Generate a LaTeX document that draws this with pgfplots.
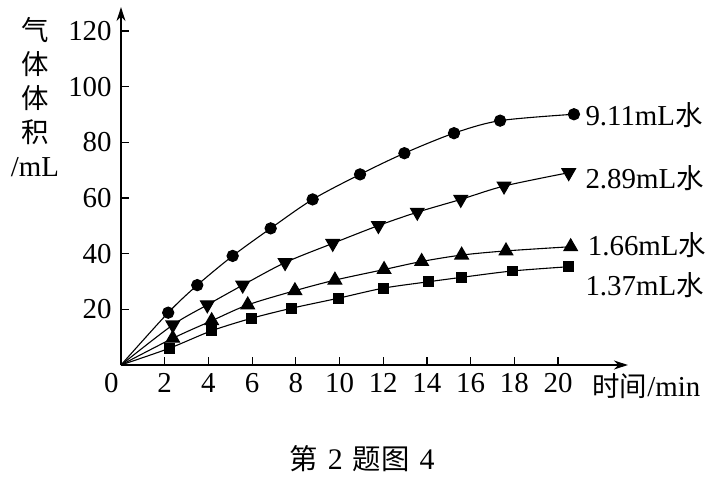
\documentclass[border=0pt]{standalone}
\usepackage{pgfplots}
\pgfplotsset{compat=1.18}
\usepackage{fontspec}
\setmainfont{Liberation Serif}
\newfontfamily\cjk{Noto Sans CJK SC}[Scale=0.95]
\usetikzlibrary{arrows.meta}
\begin{document}
\begin{tikzpicture}
\begin{axis}[
  at={(0,0)}, anchor=south west,
  x=10.925bp, y=1.3915bp,
  xmin=0, xmax=23.2, ymin=0, ymax=128.6,
  axis x line=bottom, axis y line=left,
  axis line style={line width=0.7bp, -{Stealth[length=7bp,width=4.5bp]}},
  xtick={2,4,...,20}, ytick={20,40,...,120},
  tick align=inside, major tick length=4bp,
  tick style={line width=0.6bp, black},
  every tick label/.style={font=\rmfamily\fontsize{14.5}{17}\selectfont},
  /pgf/number format/assume math mode=true,
  xticklabel style={inner sep=0pt, yshift=-4bp},
  yticklabel style={inner sep=0pt, xshift=-4.5bp},
  clip=false,
]
\addplot[line width=0.55bp, black, smooth, tension=0.5, mark phase=2, mark=*, mark size=2.8bp, mark options={fill=black}] coordinates {
 (0,0) (2.16,18.8) (3.49,28.7) (5.11,39.2) (6.85,49.1) (8.77,59.5) (10.94,68.5)
 (12.97,76.1) (15.24,83.3) (17.35,87.8) (20.73,90.1)};
\addplot[line width=0.55bp, black, smooth, tension=0.5, mark phase=2, mark=triangle*, mark size=3.9bp, mark options={fill=black, rotate=180}] coordinates {
 (0,0) (2.37,14.4) (3.95,21.6) (5.57,28.7) (7.51,36.8) (9.69,43.7) (11.78,50.1)
 (13.56,54.9) (15.55,59.5) (17.53,64.3) (20.49,69.1)};
\addplot[line width=0.55bp, black, smooth, tension=0.5, mark phase=2, mark=triangle*, mark size=3.9bp, mark options={fill=black}] coordinates {
 (0,0) (2.37,9.6) (4.15,15.9) (5.80,21.6) (7.96,26.7) (9.79,30.5) (12.04,34.3)
 (13.76,37.2) (15.59,39.5) (17.62,41.0) (20.58,42.5)};
\addplot[line width=0.55bp, black, smooth, tension=0.5, mark phase=2, mark=square*, mark size=2.4bp, mark options={fill=black}] coordinates {
 (0,0) (2.21,6.0) (4.15,12.3) (5.98,16.8) (7.81,20.4) (9.95,24.0) (12.00,27.6)
 (14.06,29.9) (15.59,31.5) (17.93,33.8) (20.47,35.3)};
\begin{scope}[font=\rmfamily\fontsize{14.5}{17}\selectfont, inner sep=0pt]
\node[anchor=north east] at (axis cs:0,0) [xshift=-1bp, yshift=-4bp] {0};
\node[anchor=west] at (axis cs:21.24,89.8) {9.11mL{\cjk 水}};
\node[anchor=west] at (axis cs:21.24,67.2) {2.89mL{\cjk 水}};
\node[anchor=west] at (axis cs:21.35,43.1) {1.66mL{\cjk 水}};
\node[anchor=west] at (axis cs:21.24,28.7) {1.37mL{\cjk 水}};
\node[anchor=north west] at (axis cs:21.56,0) [yshift=-4bp] {{\cjk 时间}/min};
\node[align=center, anchor=north] at (axis cs:-3.94,125) {\baselineskip=13.75bp {\cjk 气}\\{\cjk 体}\\{\cjk 体}\\{\cjk 积}\\/mL};
\node[anchor=center, font=\rmfamily\fontsize{15}{18}\selectfont] at (axis cs:11.03,-33.8) {{\cjk 第}\,\,2\,\,{\cjk 题图}\,\,4};
\end{scope}
\end{axis}
\pgfresetboundingbox
\path[use as bounding box] (-60.5bp,-56bp) rectangle (297.5bp,182.5bp);
\end{tikzpicture}
\end{document}
